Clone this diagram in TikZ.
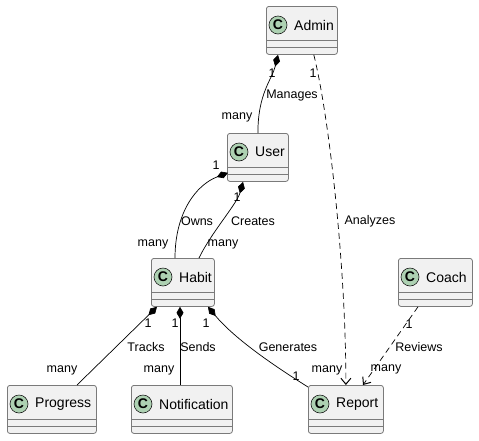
\documentclass[tikz,border=0pt]{standalone}
\usepackage{fontspec}
\setmainfont{Liberation Sans}
\usetikzlibrary{%
  arrows.meta,%
  positioning,%
  calc%
}
\definecolor{boxfill}{HTML}{F1F1F1}
\definecolor{boxline}{HTML}{7A7A7A}
\definecolor{markfill}{HTML}{ADD1B2}
\definecolor{markline}{HTML}{181818}

\tikzset{
  classbox/.style={draw=boxline, fill=boxfill, line width=0.8pt,
    rounded corners=2.5pt, minimum height=48pt, inner sep=0pt},
  compline/.style={draw=boxline, line width=0.8pt},
  classmark/.style={circle, draw=markline, fill=markfill, line width=0.6pt,
    minimum size=18pt, inner sep=0pt, font=\fontsize{14}{14}\selectfont\bfseries},
  classname/.style={inner sep=0pt, font=\fontsize{14}{14}\selectfont},
  rolelabel/.style={inner sep=0pt, font=\fontsize{12.5}{13}\selectfont},
  compose/.style={{Diamond[length=12pt,width=7pt]}-, line width=0.7pt},
  depend/.style={-{Straight Barb[length=6pt,width=10pt,line width=1pt]}, dashed,
    dash pattern=on 6pt off 4pt, line width=0.7pt}
}

% name, left, top, width, title
\newcommand{\umlclass}[5]{%
  \node[classbox, minimum width=#4pt, anchor=north west] (#1) at (#2,#3) {};
  \draw[compline] ([yshift=-34pt]#1.north west) -- ([yshift=-34pt]#1.north east);
  \draw[compline] ([yshift=-41pt]#1.north west) -- ([yshift=-41pt]#1.north east);
  \node[classmark] (#1c) at ([xshift=12pt,yshift=-19pt]#1.north west) {C};
  \node[classname, anchor=west] (#1t) at ([xshift=28pt,yshift=-19pt]#1.north west) {#5};
}

\begin{document}
\begin{tikzpicture}[x=1pt, y=-1pt]
\useasboundingbox (0,0) rectangle (479,440);

% classes
\umlclass{admin}{266}{6}{71}{Admin}
\umlclass{user}{227}{133}{61}{User}
\umlclass{habit}{151}{258}{63}{Habit}
\umlclass{coach}{398}{258}{74}{Coach}
\umlclass{progress}{7}{385}{89}{Progress}
\umlclass{notification}{131}{385}{101}{Notification}
\umlclass{report}{308}{385}{75}{Report}

% Admin -- User
\draw[compose] ([xshift=12pt]admin.south west) .. controls +(-6,25) and +(0,-40) .. (user.north);
\node[rolelabel] (m1a) at (272,73) {1};
\node[rolelabel] (m1b) at (292,95) {Manages};
\node[rolelabel] (m1c) at (237,117) {many};

% Admin -> Report
\draw[depend] ([xshift=-24pt]admin.south east) .. controls +(15,60) and +(0,-120) .. (report.north);
\node[rolelabel] (a1a) at (313,73) {1};
\node[rolelabel] (a1b) at (370,221) {Analyzes};
\node[rolelabel] (a1c) at (327,370) {many};

% User -- Habit
\draw[compose] ([xshift=1pt,yshift=9pt]user.south west) .. controls +(-32,12) and +(0,-45) .. ([xshift=24pt]habit.north west);
\node[rolelabel] (o1a) at (216,165) {1};
\node[rolelabel] (o1b) at (197,221) {Owns};
\node[rolelabel] (o1c) at (153,244) {many};

\draw[compose] ([xshift=16pt]user.south west) .. controls +(-6,22) and +(12,-25) .. ([xshift=48pt]habit.north west);
\node[rolelabel] (c1a) at (237,197) {1};
\node[rolelabel] (c1b) at (253,221) {Creates};
\node[rolelabel] (c1c) at (223,244) {many};

% Habit -- Progress, Notification, Report
\draw[compose] ([xshift=6pt]habit.south west) -- ([xshift=70pt]progress.north west);
\node[rolelabel] (t1a) at (148,323) {1};
\node[rolelabel] (t1b) at (146,347) {Tracks};
\node[rolelabel] (t1c) at (62,370) {many};

\draw[compose] ([xshift=29pt]habit.south west) -- ([xshift=49pt]notification.north west);
\node[rolelabel] (s1a) at (175,323) {1};
\node[rolelabel] (s1b) at (198,347) {Sends};
\node[rolelabel] (s1c) at (159,370) {many};

\draw[compose] ([xshift=57pt]habit.south west) .. controls +(25,30) and +(-40,-25) .. ([yshift=-2pt]report.north west);
\node[rolelabel] (g1a) at (206,323) {1};
\node[rolelabel] (g1b) at (288,347) {Generates};
\node[rolelabel] (g1c) at (296,376) {1};

% Coach -> Report
\draw[depend] ([xshift=20pt]coach.south west) -- ([xshift=55pt]report.north west);
\node[rolelabel] (r1a) at (409,324) {1};
\node[rolelabel] (r1b) at (419,347) {Reviews};
\node[rolelabel] (r1c) at (386,369) {many};

\end{tikzpicture}
\end{document}
